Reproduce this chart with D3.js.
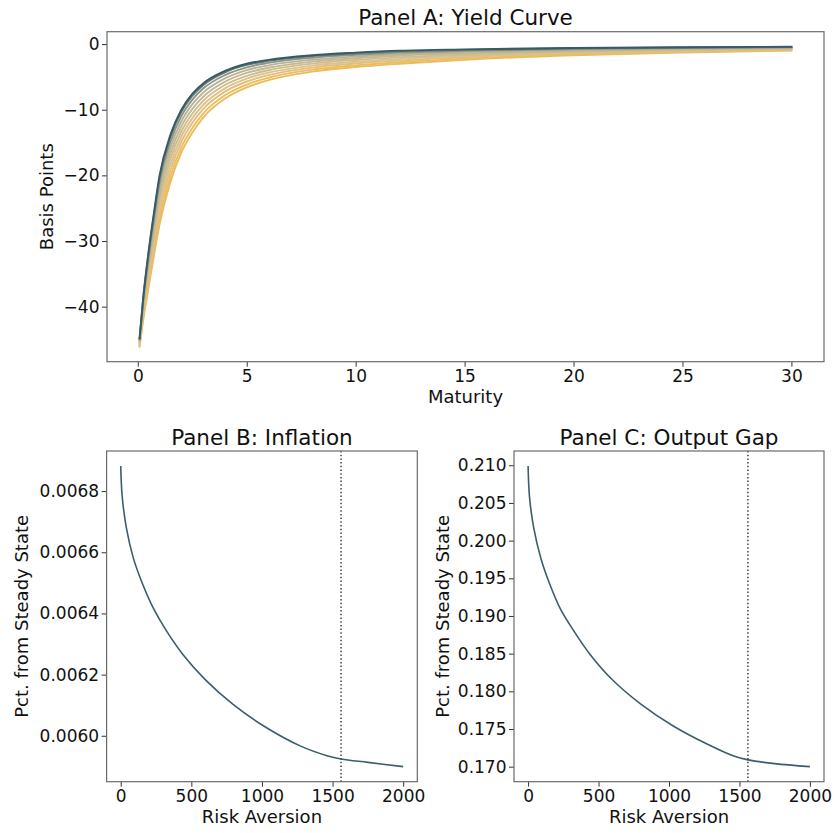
<!DOCTYPE html>
<html>
<head>
<meta charset="utf-8">
<script src="https://cdn.jsdelivr.net/npm/d3@7/dist/d3.min.js"></script>
<style>
  html, body { margin: 0; padding: 0; background: #ffffff; }
  svg { display: block; font-family: "DejaVu Sans", sans-serif; }
</style>
</head>
<body>
<svg id="chart" width="836" height="833"></svg>
<script>
// ---- Panel A: yield-curve responses (basis points) by maturity (years) ----
const maturities = [0.083, 0.25, 0.5, 0.75, 1, 1.5, 2, 2.5, 3, 4, 5, 6, 8, 10, 12, 15, 20, 25, 30];

// Curves ordered from the gold end (drawn first) to the dark end (drawn last, on top)
const yieldCurve1  = [-46.10, -42.00, -37.00, -32.00, -27.50, -21.00, -16.50, -13.50, -11.20, -8.30, -6.60, -5.50, -4.20, -3.50, -3.00, -2.40, -1.70, -1.30, -1.00];
const yieldCurve2  = [-45.94, -41.59, -36.34, -31.22, -26.60, -20.14, -15.72, -12.79, -10.58, -7.80, -6.17, -5.13, -3.90, -3.24, -2.76, -2.21, -1.57, -1.20, -0.93];
const yieldCurve3  = [-45.78, -41.15, -35.63, -30.38, -25.63, -19.20, -14.88, -12.03, -9.90, -7.25, -5.70, -4.73, -3.58, -2.95, -2.50, -2.00, -1.43, -1.10, -0.85];
const yieldCurve4  = [-45.62, -40.74, -34.97, -29.60, -24.73, -18.34, -14.10, -11.32, -9.28, -6.75, -5.27, -4.35, -3.28, -2.69, -2.26, -1.81, -1.29, -1.00, -0.78];
const yieldCurve5  = [-45.46, -40.33, -34.31, -28.82, -23.83, -17.47, -13.32, -10.61, -8.65, -6.24, -4.84, -3.98, -2.98, -2.42, -2.02, -1.62, -1.16, -0.90, -0.71];
const yieldCurve6  = [-45.31, -39.93, -33.65, -28.04, -22.93, -16.61, -12.54, -9.90, -8.03, -5.74, -4.40, -3.61, -2.68, -2.16, -1.78, -1.42, -1.03, -0.80, -0.63];
const yieldCurve7  = [-45.15, -39.52, -32.99, -27.26, -22.03, -15.74, -11.76, -9.19, -7.40, -5.23, -3.97, -3.24, -2.38, -1.89, -1.54, -1.23, -0.90, -0.70, -0.56];
const yieldCurve8  = [-45.00, -39.11, -32.33, -26.48, -21.13, -14.88, -10.98, -8.49, -6.78, -4.73, -3.54, -2.87, -2.08, -1.63, -1.30, -1.04, -0.77, -0.60, -0.49];
const yieldCurve9  = [-44.87, -38.77, -31.78, -25.83, -20.38, -14.16, -10.33, -7.90, -6.26, -4.31, -3.18, -2.56, -1.83, -1.41, -1.10, -0.88, -0.66, -0.52, -0.43];
const yieldCurve10 = [-44.80, -38.60, -31.50, -25.50, -20.00, -13.80, -10.00, -7.60, -6.00, -4.10, -3.00, -2.40, -1.70, -1.30, -1.00, -0.80, -0.60, -0.48, -0.40];
const yieldCurves = [yieldCurve1, yieldCurve2, yieldCurve3, yieldCurve4, yieldCurve5,
                     yieldCurve6, yieldCurve7, yieldCurve8, yieldCurve9, yieldCurve10];

const maturityTicks = [0, 5, 10, 15, 20, 25, 30];
const basisPointTicks = [0, -10, -20, -30, -40];

// ---- Panels B and C: responses against risk aversion ----
const riskAversion = [0, 10, 40, 90, 150, 230, 325, 440, 600, 800, 1030, 1270, 1460, 1560, 1750, 2000];
const inflation    = [0.006882, 0.006785, 0.006680, 0.006580, 0.006502, 0.006418, 0.006342, 0.006266,
                      0.006183, 0.006101, 0.006027, 0.005967, 0.005935, 0.005924, 0.005913, 0.005899];
const outputGap    = [0.2099, 0.2058, 0.2017, 0.1977, 0.1944, 0.1909, 0.1880, 0.1849,
                      0.1815, 0.1783, 0.1754, 0.1730, 0.1714, 0.1709, 0.1704, 0.1700];
const markerRiskAversion = 1560;

const riskTicks = [0, 500, 1000, 1500, 2000];
const inflationTicks = [0.0060, 0.0062, 0.0064, 0.0066, 0.0068];
const outputGapTicks = [0.170, 0.175, 0.180, 0.185, 0.190, 0.195, 0.200, 0.205, 0.210];

// ---- Drawing ----
const svg = d3.select("#chart");
const TEXT = "#111111";
const SPINE = "#6b6b6b";
const TICK_FONT = 17;
const LABEL_FONT = 18;
const TITLE_FONT = 21.5;

function padded(values) {
  const [lo, hi] = d3.extent(values);
  const m = (hi - lo) * 0.05;
  return [lo - m, hi + m];
}

function panel(box, xDomain, yDomain, opts) {
  const g = svg.append("g");
  const x = d3.scaleLinear().domain(xDomain).range([box.x0, box.x1]);
  const y = d3.scaleLinear().domain(yDomain).range([box.y1, box.y0]);

  const xAxis = g.append("g")
    .attr("transform", `translate(0,${box.y1})`)
    .call(d3.axisBottom(x).tickValues(opts.xTicks).tickFormat(opts.xFormat)
      .tickSize(5).tickSizeOuter(0).tickPadding(3.5));
  const yAxis = g.append("g")
    .attr("transform", `translate(${box.x0},0)`)
    .call(d3.axisLeft(y).tickValues(opts.yTicks).tickFormat(opts.yFormat)
      .tickSize(5).tickSizeOuter(0).tickPadding(2.5));

  [xAxis, yAxis].forEach(a => {
    a.select(".domain").remove();
    a.selectAll(".tick line").attr("stroke", "#333").attr("stroke-width", 1);
    a.selectAll(".tick text").attr("fill", TEXT)
      .style("font-size", TICK_FONT + "px").style("font-family", "DejaVu Sans");
  });

  // Titles and axis labels
  g.append("text")
    .attr("x", (box.x0 + box.x1) / 2).attr("y", box.y0 - 6.5)
    .attr("text-anchor", "middle").attr("fill", TEXT)
    .style("font-size", TITLE_FONT + "px")
    .text(opts.title);
  g.append("text")
    .attr("x", (box.x0 + box.x1) / 2).attr("y", box.y1 + 41.5)
    .attr("text-anchor", "middle").attr("fill", TEXT)
    .style("font-size", LABEL_FONT + "px")
    .text(opts.xLabel);
  g.append("text")
    .attr("transform", `translate(${opts.yLabelX},${(box.y0 + box.y1) / 2}) rotate(-90)`)
    .attr("text-anchor", "middle").attr("fill", TEXT)
    .style("font-size", LABEL_FONT + "px")
    .text(opts.yLabel);

  return { g, x, y };
}

// Panel A
{
  const box = { x0: 107, x1: 824, y0: 31.7, y1: 361.7 };
  const all = yieldCurves.flat();
  const p = panel(box, padded(maturities), padded(all), {
    xTicks: maturityTicks, yTicks: basisPointTicks,
    xFormat: d3.format("d"), yFormat: d3.format("d"),
    title: "Panel A: Yield Curve", xLabel: "Maturity", yLabel: "Basis Points",
    yLabelX: 53
  });
  // gold -> pale tan -> dark slate
  const colour = d3.piecewise(d3.interpolateRgb, ["#eebb55", "#dcc28c", "#b9b396", "#385a65"]);
  const line = d3.line()
    .x((d, i) => p.x(maturities[i]))
    .y(d => p.y(d))
    .curve(d3.curveMonotoneX);
  p.g.append("g").selectAll("path")
    .data(yieldCurves)
    .join("path")
    .attr("d", line)
    .attr("fill", "none")
    .attr("stroke", (d, i) => colour(i / (yieldCurves.length - 1)))
    .attr("stroke-width", 1.9)
    .attr("stroke-linecap", "square");
  p.g.append("rect")
    .attr("x", box.x0).attr("y", box.y0)
    .attr("width", box.x1 - box.x0).attr("height", box.y1 - box.y0)
    .attr("fill", "none").attr("stroke", SPINE).attr("stroke-width", 1.2);
}

// Panels B and C share the same layout
function riskPanel(box, values, yTicks, yFormat, title, yLabelX) {
  const p = panel(box, padded(riskAversion), padded(values), {
    xTicks: riskTicks, yTicks: yTicks,
    xFormat: d3.format("d"), yFormat: yFormat,
    title: title, xLabel: "Risk Aversion", yLabel: "Pct. from Steady State",
    yLabelX: yLabelX
  });
  const line = d3.line()
    .x((d, i) => p.x(riskAversion[i]))
    .y(d => p.y(d))
    .curve(d3.curveCatmullRom.alpha(0.5));
  p.g.append("path")
    .datum(values)
    .attr("d", line)
    .attr("fill", "none")
    .attr("stroke", "#3b5e6b")
    .attr("stroke-width", 1.6);
  p.g.append("line")
    .attr("x1", p.x(markerRiskAversion)).attr("x2", p.x(markerRiskAversion))
    .attr("y1", box.y0).attr("y2", box.y1)
    .attr("stroke", "#444").attr("stroke-width", 1.5)
    .attr("stroke-dasharray", "1.5,2.2");
  p.g.append("rect")
    .attr("x", box.x0).attr("y", box.y0)
    .attr("width", box.x1 - box.x0).attr("height", box.y1 - box.y0)
    .attr("fill", "none").attr("stroke", SPINE).attr("stroke-width", 1.2);
}

riskPanel({ x0: 106.6, x1: 417.3, y0: 451, y1: 781.7 }, inflation, inflationTicks,
          d3.format(".4f"), "Panel B: Inflation", 28);
riskPanel({ x0: 514, x1: 824, y0: 451, y1: 781.7 }, outputGap, outputGapTicks,
          d3.format(".3f"), "Panel C: Output Gap", 449);
</script>
</body>
</html>
